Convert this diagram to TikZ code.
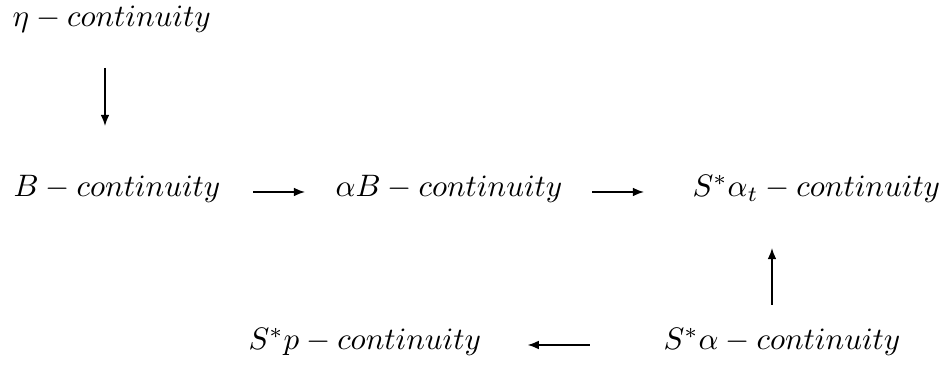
\documentclass[tikz,border=0pt]{standalone}
\usetikzlibrary{arrows.meta,calc}
\begin{document}
\begin{tikzpicture}[x=0.322pt,y=-0.322pt,
  lbl/.style={inner sep=0pt, anchor=base west},
  arr/.style={-{Latex[length=3.6pt,width=2.8pt]}, line width=0.45pt}]
\useasboundingbox (0,0) rectangle (940,365);
\node[lbl] (eta) at (12,27) {$\eta - continuity$};
\node[lbl] (B) at (13,197) {$B - continuity$};
\node[lbl] (aB) at (335,197) {$\alpha B - continuity$};
\node[lbl] (Sat) at (692,197) {$S^*\alpha_t - continuity$};
\node[lbl] (Sp) at (248,350) {$S^*p - continuity$};
\node[lbl] (Sa) at (663,350) {$S^*\alpha - continuity$};
\draw[arr] ($(eta.base west)+(93,41)$) -- ($(B.base west)+(92,-71)$);
\draw[arr] ($(B.base east)+(32,-5)$) -- ($(aB.base west)+(-30,-5)$);
\draw[arr] ($(aB.base east)+(29,-5)$) -- ($(Sat.base west)+(-48,-5)$);
\draw[arr] ($(Sa.base west)+(109,-45)$) -- ($(Sat.base west)+(80,51)$);
\draw[arr] ($(Sa.base west)+(-73,-5)$) -- ($(Sp.base east)+(46,-5)$);
\end{tikzpicture}
\end{document}
